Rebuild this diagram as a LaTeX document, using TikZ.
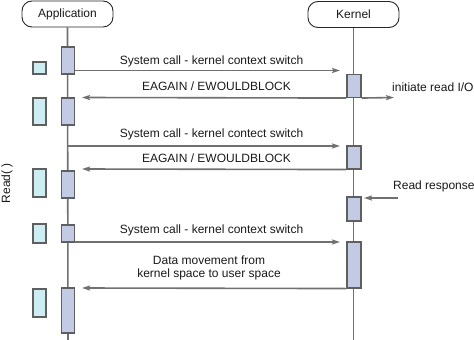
\documentclass[tikz,border=0pt]{standalone}
\usepackage{fontspec}
\setmainfont{Liberation Sans}
\usetikzlibrary{arrows.meta}
\definecolor{lineg}{RGB}{112,112,112}
\definecolor{actfill}{RGB}{194,202,228}
\definecolor{cyanfill}{RGB}{204,238,242}
\definecolor{txt}{RGB}{25,25,25}
\tikzset{
  head/.style={draw=black!85, line width=0.9pt, rounded corners=10pt, minimum width=91pt, minimum height=26pt, inner sep=0pt, font=\fontsize{12}{14}\selectfont, text=txt, fill=white},
  act/.style={draw=lineg!85!black, line width=1.1pt, fill=actfill, minimum width=13pt, inner sep=0pt},
  sidebox/.style={draw=lineg!85!black, line width=1.1pt, fill=cyanfill, minimum width=13pt, inner sep=0pt},
  life/.style={draw=lineg, line width=1.6pt},
  msg/.style={draw=lineg, line width=1.6pt, -{Stealth[length=8pt,width=5pt,inset=1.5pt,fill=black]}},
  lbl/.style={font=\fontsize{12}{13.5}\selectfont, text=txt, inner sep=0pt, align=center}
}
\begin{document}
\begin{tikzpicture}[x=1pt,y=-1pt]
\useasboundingbox (0,0) rectangle (474,340);
% headers
\node[head] (app) at (67.5,14) {Application};
\node[head] (ker) at (353.5,14.5) {Kernel};
\coordinate (append) at (68,340);
\coordinate (kerend) at (353.5,340);
\draw[life] (app.south) -- (append);
\draw[life] (ker.south) -- (kerend);
% application activations
\node[act, minimum height=27pt] (a1) at (68,60.5) {};
\node[act, minimum height=27pt] (a2) at (68,111.5) {};
\node[act, minimum height=27pt] (a3) at (68,184.5) {};
\node[act, minimum height=17pt] (a4) at (68,233.5) {};
\node[act, minimum height=45pt] (a5) at (68,310.5) {};
% side boxes
\node[sidebox, minimum height=12pt] (c1) at (39.5,68) {};
\node[sidebox, minimum height=27pt] (c2) at (39.5,111.5) {};
\node[sidebox, minimum height=28pt] (c3) at (39.5,183) {};
\node[sidebox, minimum height=19pt] (c4) at (39.5,233.5) {};
\node[sidebox, minimum height=28pt] (c5) at (39.5,303) {};
% kernel activations
\node[act, minimum width=14pt, minimum height=23pt] (k1) at (354,86) {};
\node[act, minimum width=14pt, minimum height=23pt] (k2) at (354,157.5) {};
\node[act, minimum width=14pt, minimum height=24pt] (k3) at (354,209) {};
\node[act, minimum width=14pt, minimum height=46pt] (k4) at (354,265) {};
% tips
\coordinate (t1) at (340,70.5);
\coordinate (t2) at (82,97.5);
\coordinate (t2b) at (394,97.5);
\coordinate (s3) at (68,146);
\coordinate (t3) at (340,146);
\coordinate (t4) at (82,169);
\coordinate (s5) at (398,198);
\coordinate (t5) at (364,198);
\coordinate (t6) at (340,242);
\coordinate (t7) at (82,288);
% messages
\draw[msg] (a1.east |- t1) -- (t1);
\draw[msg] (k1.south west) -- (t2);
\draw[msg] (k1.south east) -- (t2b);
\draw[msg] (s3) -- (t3);
\draw[msg] (k2.south west) -- (t4);
\draw[msg] (s5) -- (t5);
\draw[msg] (a4.east |- t6) -- (t6);
\draw[msg] (k4.south west) -- (t7);
% labels
\node[lbl] (l1) at (211.5,61) {System call - kernel context switch};
\node[lbl] (l2) at (216.5,86.5) {EAGAIN / EWOULDBLOCK};
\node[lbl, anchor=west] (l2b) at (392,87) {initiate read I/O};
\node[lbl] (l3) at (211.5,134) {System call - kernel contect switch};
\node[lbl] (l4) at (216.5,158) {EAGAIN / EWOULDBLOCK};
\node[lbl, anchor=west] (l5) at (393,186) {Read response};
\node[lbl] (l6) at (211.5,230.5) {System call - kernel context switch};
\node[lbl] (l7) at (209,268) {Data movement from\\kernel space to user space};
\node[lbl, rotate=90] (rd) at (7,183) {Read( )};
\end{tikzpicture}
\end{document}
